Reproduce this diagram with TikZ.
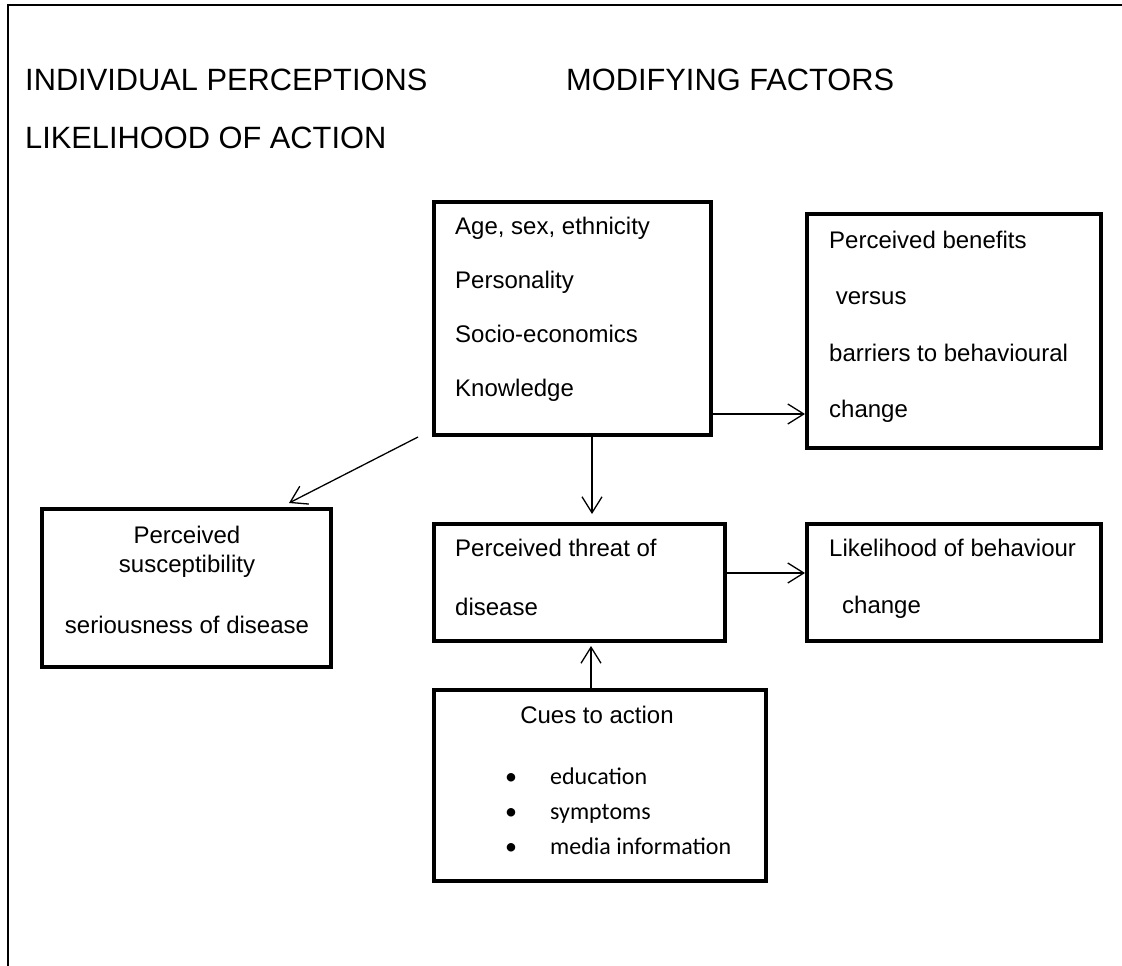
\documentclass[tikz,border=0pt]{standalone}
\usepackage{fontspec}
\setmainfont{Liberation Sans}
\newfontfamily\listfont{Carlito}
\usetikzlibrary{arrows.meta,positioning,calc}

\tikzset{
  box/.style={draw, line width=4pt, inner sep=0pt},
  txt/.style={inner sep=0pt, align=left},
  link/.style={line width=1.3pt, -{Straight Barb[length=16pt,width=20pt]}},
  head/.style={inner sep=0pt, anchor=base west, font=\fontsize{30.8}{36}\selectfont},
}

\begin{document}
\begin{tikzpicture}[x=1pt,y=-1pt]
\useasboundingbox (0,0) rectangle (1122,966);
% page frame
\draw[line width=2pt] (1122,5) -- (8,5) -- (8,966);

% headings
\node[head] (hIndiv) at (25,91) {INDIVIDUAL PERCEPTIONS};
\node[head] (hModif) at (566,91) {MODIFYING FACTORS};
\node[head] (hLikely) at (25,148) {LIKELIHOOD OF ACTION};

% boxes
\node[box, minimum width=277pt, minimum height=233pt] (factors) at (572.5,318.5) {};
\node[box, minimum width=294pt, minimum height=234pt] (benefits) at (954,331) {};
\node[box, minimum width=291pt, minimum height=117pt] (threat) at (579.5,582.5) {};
\node[box, minimum width=294pt, minimum height=117pt] (change) at (954,582.5) {};
\node[box, minimum width=332pt, minimum height=191pt] (cues) at (600,785.5) {};
\node[box, minimum width=289pt, minimum height=158pt] (risk) at (186.5,588) {};

% box texts
\node[txt, anchor=north west, font=\fontsize{24}{54}\selectfont] (factorsTxt) at (455,217)
  {Age, sex, ethnicity\\Personality\\Socio-economics\\Knowledge};
\node[txt, anchor=north west, font=\fontsize{24}{56.5}\selectfont] (benefitsTxt) at (829,230.5)
  {Perceived benefits\\\ versus\\barriers to behavioural\\change};
\node[txt, anchor=north west, font=\fontsize{24}{59}\selectfont] (threatTxt) at (455,539)
  {Perceived threat of\\disease};
\node[txt, anchor=north west, font=\fontsize{24}{57}\selectfont] (changeTxt) at (829,539)
  {Likelihood of behaviour\\\hspace*{13pt}change};
\node[txt, align=center, anchor=north, font=\fontsize{24}{29}\selectfont] (riskTxt) at (187,526)
  {Perceived\\susceptibility\\[32pt]seriousness of disease};
\node[txt, anchor=base, font=\fontsize{24}{29}\selectfont] (cuesTxt) at (597,723.5) {Cues to action};
\node[txt, anchor=north west, font=\listfont\fontsize{24}{35}\selectfont] (cuesList) at (505,768)
  {\makebox[45pt][l]{•}education\\\makebox[45pt][l]{•}symptoms\\\makebox[45pt][l]{•}media information};

% connectors
\coordinate (abRow) at (0,414);
\coordinate (cdRow) at (0,573);
\coordinate (acCol) at (592,0);
\coordinate (ecCol) at (591,0);
\coordinate (afStart) at ([xshift=-14pt]factors.south west);
\draw[link] (factors.east |- abRow) -- (benefits.west |- abRow);
\draw[link, shorten >=8pt] (factors.south -| acCol) -- (threat.north -| acCol);
\draw[link] (threat.east |- cdRow) -- (change.west |- cdRow);
\draw[link, shorten >=3pt] (cues.north -| ecCol) -- (threat.south -| ecCol);
\draw[link] (afStart) -- ([shift={(-44pt,4pt)}]risk.north east);
\end{tikzpicture}
\end{document}
